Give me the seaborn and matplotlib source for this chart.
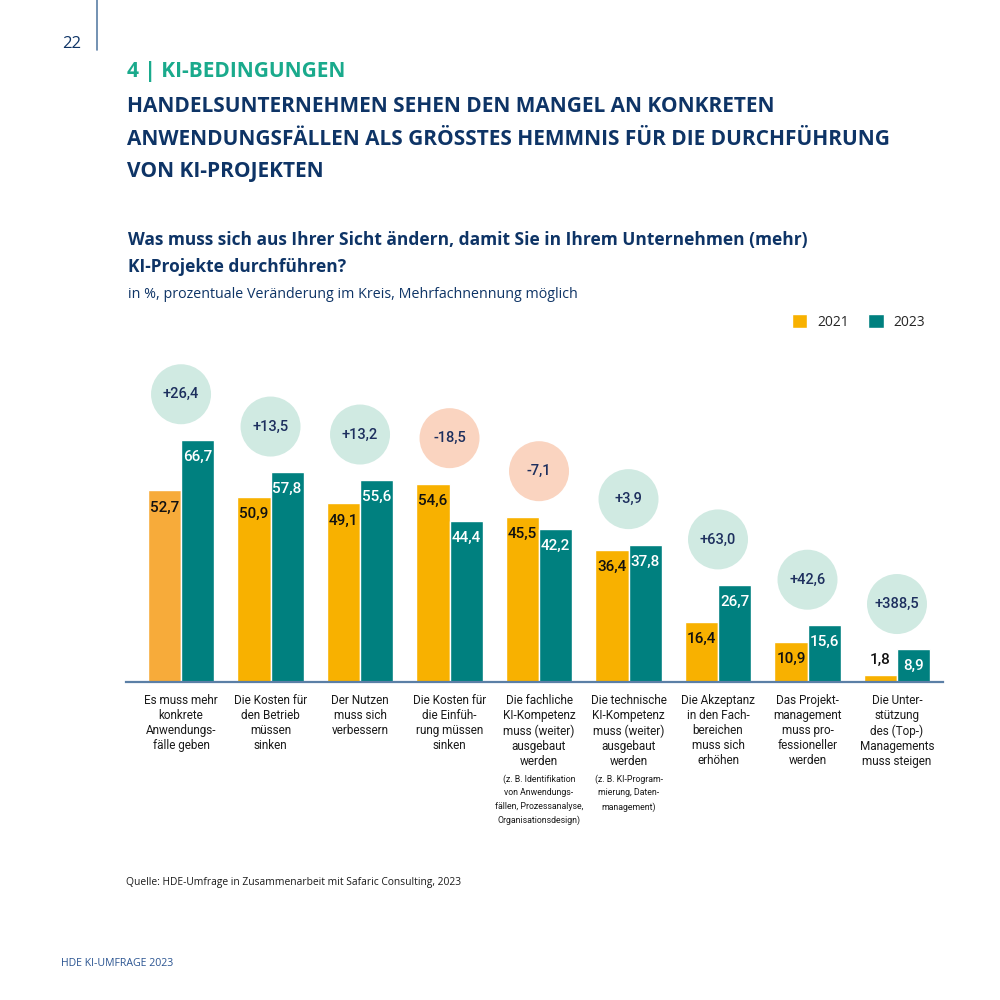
import numpy as np
import pandas as pd
import matplotlib.pyplot as plt
import seaborn as sns

sns.set_theme(style='white')
plt.rcParams['font.family'] = ['Open Sans', 'DejaVu Sans']

# data
categories = [
    'Es muss mehr\nkonkrete\nAnwendungs-\nfälle geben',
    'Die Kosten für\nden Betrieb\nmüssen\nsinken',
    'Der Nutzen\nmuss sich\nverbessern',
    'Die Kosten für\ndie Einfüh-\nrung müssen\nsinken',
    'Die fachliche\nKI-Kompetenz\nmuss (weiter)\nausgebaut\nwerden',
    'Die technische\nKI-Kompetenz\nmuss (weiter)\nausgebaut\nwerden',
    'Die Akzeptanz\nin den Fach-\nbereichen\nmuss sich\nerhöhen',
    'Das Projekt-\nmanagement\nmuss pro-\nfessioneller\nwerden',
    'Die Unter-\nstützung\ndes (Top-)\nManagements\nmuss steigen',
]
footnotes = ['', '', '', '',
             '(z. B. Identifikation\nvon Anwendungs-\nfällen, Prozessanalyse,\nOrganisationsdesign)',
             '(z. B. KI-Program-\nmierung, Daten-\nmanagement)',
             '', '', '']
years = ['2021', '2023']
values_2021 = [52.7, 50.9, 49.1, 54.6, 45.5, 36.4, 16.4, 10.9, 1.8]
values_2023 = [66.7, 57.8, 55.6, 44.4, 42.2, 37.8, 26.7, 15.6, 8.9]
change = [26.4, 13.5, 13.2, -18.5, -7.1, 3.9, 63.0, 42.6, 388.5]

colors = {
    '2021': '#F8B100',
    '2021_first': '#F7AB3A',
    '2023': '#00807F',
    'up': '#D0EAE2',
    'down': '#FAD4C0',
    'navy': '#0E3466',
    'green': '#1AAA8C',
    'axis': '#5B7FA6',
}

df = pd.DataFrame({
    'Kategorie': categories * 2,
    'Jahr': [years[0]] * len(categories) + [years[1]] * len(categories),
    'Wert': values_2021 + values_2023,
})


def fmt(v, sign=False):
    s = f'{v:+.1f}' if sign else f'{v:.1f}'
    return s.replace('.', ',')


def px(x, y):
    return x / 1000, 1 - y / 1000


fig = plt.figure(figsize=(10, 10), dpi=100)
fig.patch.set_facecolor('white')
ax = fig.add_axes([0.126, 0.3183, 0.817, 0.3517])

sns.barplot(data=df, x='Kategorie', y='Wert', hue='Jahr', order=categories,
            hue_order=years, palette=[colors['2021'], colors['2023']],
            width=0.74, saturation=1, ax=ax)
ax.containers[0][0].set_facecolor(colors['2021_first'])

ax.set_xlim(-0.615, 8.514)
ax.set_ylim(0, 96.9)
ax.set_xlabel('')
ax.set_ylabel('')
ax.set_yticks([])
for s in ['top', 'left', 'right']:
    ax.spines[s].set_visible(False)
ax.spines['bottom'].set_color(colors['axis'])
ax.spines['bottom'].set_linewidth(1.6)
ax.tick_params(axis='x', length=0, pad=9)
for t in ax.get_xticklabels():
    t.set_fontfamily(['Roboto', 'DejaVu Sans'])
    t.set_fontsize(8.5)
    t.set_color('#1a1a1a')
    t.set_linespacing(1.2)

# value labels inside bars
for cont, vals, txt_col in zip(ax.containers, [values_2021, values_2023], ['#111111', 'white']):
    for bar, v in zip(cont, vals):
        x = bar.get_x() + bar.get_width() / 2
        h = bar.get_height()
        if h < 5:
            off, col = 15, '#111111'
        else:
            off, col = -17, txt_col
        ax.annotate(fmt(v), (x, h), xytext=(0, off), textcoords='offset pixels',
                    ha='center', va='center', fontsize=11, color=col,
                    family=['Roboto', 'DejaVu Sans'], fontweight='medium')

# change circles
pos = np.arange(len(categories))
circle_y = np.maximum(values_2021, values_2023) + 12.5
circle_cols = [colors['up'] if c > 0 else colors['down'] for c in change]
ax.scatter(pos, circle_y, s=1866, c=circle_cols, linewidths=0, zorder=3, clip_on=False)
for x, y, c in zip(pos, circle_y, change):
    ax.text(x, y, fmt(c, sign=True), ha='center', va='center', fontsize=10.5,
            color='#1D2F5E', family=['Roboto', 'DejaVu Sans'], fontweight='medium', zorder=4)

# footnotes under two labels
for x, fn in zip(pos, footnotes):
    if fn:
        ax.annotate(fn, (x, 0), xytext=(0, -93), textcoords='offset pixels',
                    ha='center', va='top', fontsize=6.3, color='#1a1a1a',
                    family=['Roboto', 'DejaVu Sans'], linespacing=1.6)

sns.move_legend(ax, 'center right', bbox_to_anchor=(0.978, 1.023), ncol=2,
                frameon=False, title=None, fontsize=10, handlelength=1.1,
                handleheight=1.1, handletextpad=0.7, columnspacing=1.4,
                borderpad=0, borderaxespad=0)

# page furniture
fig.text(*px(62, 44), '22', fontsize=12, color=colors['navy'], va='center')
fig.add_artist(plt.Line2D([0.097, 0.097], [1.0, 0.95], color=colors['axis'], lw=1.2))
fig.text(*px(127, 72), '4 | KI-BEDINGUNGEN', fontsize=15, fontweight='bold',
         color=colors['green'], va='center')
headline = ['HANDELSUNTERNEHMEN SEHEN DEN MANGEL AN KONKRETEN',
            'ANWENDUNGSFÄLLEN ALS GRÖSSTES HEMMNIS FÜR DIE DURCHFÜHRUNG',
            'VON KI-PROJEKTEN']
for i, line in enumerate(headline):
    fig.text(*px(127, 107 + i * 32.5), line, fontsize=15, fontweight='bold',
             color=colors['navy'], va='center')
fig.text(*px(128, 240), 'Was muss sich aus Ihrer Sicht ändern, damit Sie in Ihrem Unternehmen (mehr)',
         fontsize=12.5, fontweight='bold', color=colors['navy'], va='center')
fig.text(*px(128, 267), 'KI-Projekte durchführen?', fontsize=12.5, fontweight='bold',
         color=colors['navy'], va='center')
fig.text(*px(128, 294), 'in %, prozentuale Veränderung im Kreis, Mehrfachnennung möglich',
         fontsize=10.3, color=colors['navy'], va='center')
fig.text(*px(126, 883), 'Quelle: HDE-Umfrage in Zusammenarbeit mit Safaric Consulting, 2023',
         fontsize=7.4, color='#1a1a1a', va='center')
fig.text(*px(61, 964), 'HDE KI-UMFRAGE 2023', fontsize=7.6, color='#2A5491', va='center')

fig.savefig('out.png', dpi=100, facecolor='white')
plt.close()
